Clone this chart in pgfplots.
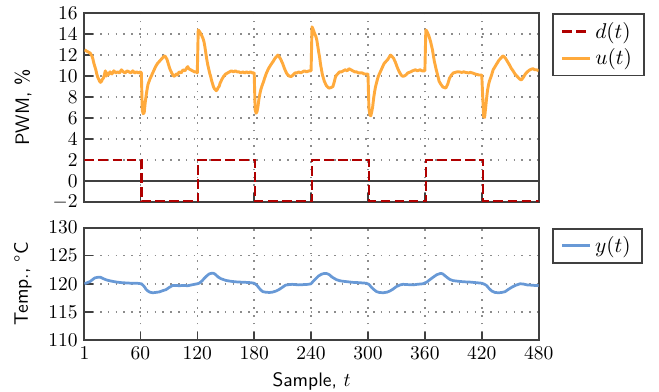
\documentclass[border=0pt]{standalone}
\usepackage{pgfplots}
\pgfplotsset{compat=1.18}
\definecolor{dred}{RGB}{176,0,0}
\definecolor{uorange}{RGB}{255,170,60}
\definecolor{yblue}{RGB}{104,153,214}
\definecolor{framec}{RGB}{64,64,64}

\pgfplotsset{
  myaxis/.style={
    scale only axis, width=232.9pt,
    xmin=1, xmax=480,
    xtick={1,60,120,180,240,300,360,420,480},
    grid=major,
    major grid style={draw=black!45, line width=0.8pt, dash pattern=on 0.8pt off 3.2pt},
    axis line style={draw=framec, line width=1pt},
    every tick/.style={draw=framec, line width=0.8pt},
    tick align=inside,
    xtick pos=left, ytick pos=left,
    legend style={at={(1,1)}, xshift=6.8pt, anchor=north west, draw=framec, line width=1pt, font=\fontsize{11}{13}\selectfont, inner xsep=4pt},
    legend cell align=left,
    legend image code/.code={\draw[##1] (0cm,0cm) -- (0.5cm,0cm);},
    ylabel style={at={(axis description cs:-0.1013,0.5)}, anchor=south, font=\sffamily},
    xlabel style={font=\sffamily},
  }
}

\begin{document}
\begin{tikzpicture}
\begin{axis}[myaxis,
  height=96.6pt,
  ymin=-2, ymax=16, ytick={-2,0,2,4,6,8,10,12,14,16},
  xticklabels={},
  ylabel={PWM, \%},
]
\addplot[black!75, line width=1pt, forget plot] coordinates {(1,0) (480,0)};
\addplot[dred, line width=1.2pt, dash pattern=on 5pt off 2.2pt, const plot] coordinates {
(1,2) (61,-2) (121,2) (181,-2) (241,2) (301,-2) (361,2) (421,-2) (480,-2)};
\addlegendentry{$d(t)$}
\addplot[uorange, line width=1.5pt, line join=round] coordinates {
(1,12.5) (3,12.4) (5,12.3) (7,12.2) (9,11.9) (10,11.6) (11,11.2) (12,10.9) (13,10.6) (14,10.2)
(15,9.9) (16,9.7) (17,9.5) (18,9.4) (19,9.5) (20,9.7) (21,9.8) (22,10.1) (23,10.5) (24,10.0)
(25,10.3) (26,10.1) (28,10.4) (30,10.2) (32,10.5) (34,10.3) (36,10.4) (38,10.3) (40,10.6) (42,10.4)
(44,10.3) (46,10.5) (48,10.4) (50,10.3) (52,10.5) (54,10.3) (56,10.4) (58,10.3) (60,10.4) (61,10.3)
(62,6.7) (63,6.4) (64,6.5) (65,7.4) (66,8.1) (67,8.7) (68,9.2) (70,9.7) (72,10.1) (74,10.5)
(76,10.9) (78,11.2) (80,11.4) (82,11.6) (84,11.8) (85,11.9) (86,11.9) (88,11.6) (90,11.0) (91,10.7)
(93,10.3) (95,10.0) (96,10.0) (98,10.2) (99,10.1) (101,10.4) (103,10.3) (105,10.6) (107,10.5) (109,10.8)
(110,10.9) (111,10.7) (113,10.6) (115,10.5) (117,10.4) (119,10.4) (120,10.3)
(121,14.4) (122,14.3) (124,14.0) (126,13.6) (127,13.3) (128,12.8) (129,12.2) (130,11.6) (131,11.1) (132,10.7)
(133,10.3) (134,10.0) (135,9.6) (136,9.3) (137,9.0) (138,8.8) (139,8.7) (140,8.6) (141,8.7) (142,8.9)
(143,9.0) (144,9.3) (146,9.7) (148,10.0) (150,10.2) (152,10.3) (154,10.4) (156,10.5) (158,10.4) (160,10.5)
(162,10.4) (164,10.4) (166,10.3) (168,10.4) (170,10.3) (172,10.4) (174,10.3) (176,10.4) (178,10.3) (180,10.3)
(181,6.8) (182,6.45) (183,6.6) (184,7.1) (185,7.8) (186,8.3) (187,8.7) (188,9.0) (190,9.5) (191,9.8)
(193,10.3) (195,10.7) (197,11.0) (200,11.4) (202,11.7) (204,11.9) (205,12.0) (206,11.9) (208,11.6) (210,11.2)
(212,10.7) (214,10.3) (215.5,10.1) (217,10.0) (219,9.95) (221,10.1) (223,10.3) (225,10.3) (227,10.4) (229,10.3)
(231,10.4) (233,10.5) (235,10.4) (238,10.5) (240,10.5)
(241,14.7) (242,14.5) (243,14.25) (244,14.0) (245,13.8) (246,13.45) (247,12.9) (248,12.3) (249,11.8) (250,11.1)
(251,10.6) (252,10.1) (253,9.8) (254,9.5) (256,9.1) (258,8.9) (259,8.85) (261,8.9) (263,9.0) (264,9.3)
(266,10.0) (268,10.2) (270,10.4) (272,10.4) (274,10.5) (276,10.6) (278,10.5) (280,10.7) (282,10.6) (284,10.5)
(286,10.4) (288,10.4) (290,10.3) (292,10.3) (294,10.3) (296,10.2) (298,10.2) (300,10.2)
(301,6.9) (302,6.3) (303,6.2) (304,6.6) (305,7.1) (306,7.9) (307,8.5) (308,9.0) (310,9.7) (311,10.0)
(313,10.4) (315,10.8) (317,11.2) (319,11.4) (321,11.6) (323,11.9) (324,12.0) (325,11.9) (327,11.7) (329,11.3)
(331,10.8) (333,10.4) (335,10.1) (336,10.0) (338,10.0) (340,10.1) (342,10.3) (345,10.4) (347,10.5) (350,10.6)
(352,10.5) (355,10.6) (357,10.5) (360,10.5)
(361,14.4) (362,14.3) (364,13.9) (366,13.3) (368,12.5) (370,11.4) (372,10.6) (374,9.9) (375,9.5) (377,9.2)
(379,8.95) (382,8.85) (384,9.2) (386,9.8) (388,10.1) (390,10.3) (392,10.35) (394,10.4) (396,10.4) (399,10.35)
(401,10.4) (403,10.35) (406,10.3) (408,10.35) (410,10.3) (413,10.2) (415,10.15) (417,10.1) (420,10.1)
(421,8.0) (422,6.1) (423,6.05) (424,6.9) (425,7.8) (426,8.6) (427,9.1) (428,9.5) (430,10.0) (432,10.6)
(434,10.9) (436,11.2) (438,11.5) (440,11.7) (442,11.9) (443,11.9) (445,11.7) (447,11.4) (449,11.1) (451,10.75)
(453,10.5) (455,10.2) (457,10.0) (459,9.8) (461,9.65) (462,9.65) (464,9.9) (466,10.2) (468,10.4) (470,10.55)
(472,10.65) (474,10.7) (476,10.6) (478,10.6) (480,10.5)};
\addlegendentry{$u(t)$}
\coordinate (TL) at (rel axis cs:0,1);
\end{axis}

\begin{axis}[myaxis,
  at={(0pt,-13.3pt)}, anchor=north west,
  height=57.6pt,
  ymin=110, ymax=130, ytick={110,115,120,125,130},
  xlabel={Sample, $t$},
  ylabel={Temp., \textdegree C},
]
\addplot[yblue, line width=1.4pt, line join=round] coordinates {
(1,120.0) (4,120.2) (7,120.4) (10,120.8) (12,121.05) (15,121.15) (18,121.15) (21,120.9) (24,120.7) (26,120.6)
(30,120.45) (35,120.3) (40,120.2) (45,120.15) (50,120.1) (56,120.1) (61,120.0) (63,119.7) (64.5,119.4) (66,119.0)
(68,118.7) (70,118.5) (73,118.4) (76,118.45) (80,118.55) (84,118.8) (87,118.95) (90,119.3) (94,119.7) (97,119.7)
(101,119.65) (105,119.7) (110,119.65) (114,119.8) (117,119.9) (120,120.0) (122,120.1) (125,120.5) (127,120.9) (130,121.4)
(132.5,121.75) (136,121.9) (138,121.8) (139.5,121.6) (142,121.2) (145,120.9) (150,120.6) (155,120.45) (160,120.35) (165,120.3)
(171,120.25) (176,120.2) (180,120.1) (183,119.7) (186.6,118.95) (189,118.6) (192,118.5) (196,118.45) (199,118.5) (203,118.7)
(206,118.95) (210,119.4) (213,119.75) (217,119.85) (220,119.9) (227,119.8) (232,119.85) (237,119.9) (240,120.0) (242,120.4)
(245,120.9) (248,121.4) (251,121.7) (254,121.85) (257,121.8) (259.4,121.6) (262,121.2) (266.5,120.75) (270,120.55) (273.5,120.45)
(279,120.35) (284,120.25) (290,120.2) (298,120.1) (301,119.9) (303.5,119.4) (306,119.0) (309,118.6) (312,118.45) (316,118.4)
(320,118.5) (323,118.7) (326,119.0) (330,119.5) (334,119.8) (337,119.9) (342,119.85) (347.6,119.8) (352,119.9) (358,120.0)
(362,120.3) (365,120.7) (369,121.2) (372.4,121.6) (376.6,121.85) (379,121.75) (381,121.45) (384,121.05) (386.5,120.75) (390,120.55)
(395,120.45) (401,120.35) (407.6,120.3) (414,120.2) (420,120.1) (423,119.9) (425,119.7) (428,119.1) (430.6,118.7) (434,118.45)
(437.7,118.4) (441,118.45) (444.7,118.6) (448,119.0) (451.8,119.4) (456,119.75) (460.6,120.0) (464,119.95) (467.7,119.8) (472,119.75)
(476,119.7) (480,119.7)};
\addlegendentry{$y(t)$}
\coordinate (BR) at (rel axis cs:1,0);
\end{axis}
\pgfresetboundingbox
\useasboundingbox ([shift={(-43.3pt,6.8pt)}]TL) rectangle ([shift={(61.7pt,-26.2pt)}]BR);
\end{tikzpicture}
\end{document}
